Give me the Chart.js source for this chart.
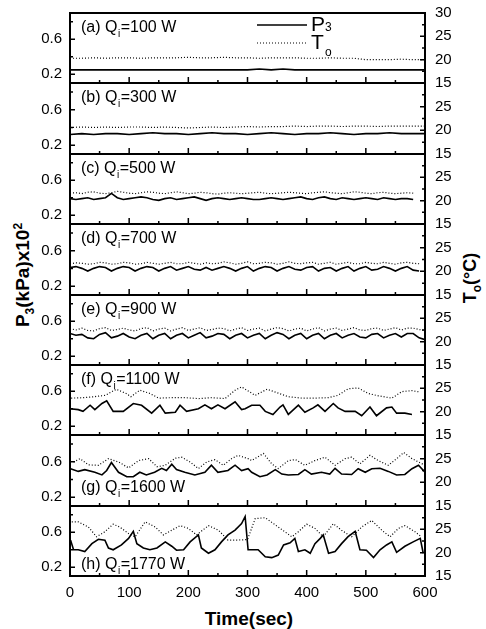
<!DOCTYPE html>
<html>
<head>
<meta charset="utf-8">
<script src="https://cdn.jsdelivr.net/npm/chart.js@4/dist/chart.umd.min.js"></script>
<style>
  html, body { margin: 0; padding: 0; background: #fff; }
  #wrap { position: relative; width: 486px; height: 629px; overflow: hidden; font-family: Arial, "Liberation Sans", sans-serif; }
  #wrap canvas { position: absolute; left: 0; }
  .title { position: absolute; font-weight: bold; color: #000; white-space: nowrap; transform: translate(-50%, -50%); }
  .rot { transform: translate(-50%, -50%) rotate(-90deg); }
  .title sub, .title sup { font-size: 12px; }
</style>
</head>
<body>
<div id="wrap">
  <div class="title rot" style="left:24px; top:275px; font-size:19px;">P<sub>3</sub>(kPa)x10<sup>2</sup></div>
  <div class="title rot" style="left:472px; top:278px; font-size:18px;">T<sub>o</sub>(°C)</div>
  <div class="title" style="left:249px; top:619px; font-size:19px;">Time(sec)</div>
</div>
<script>
// panel names and heat inputs
var panelNames = ['(a)', '(b)', '(c)', '(d)', '(e)', '(f)', '(g)', '(h)'];
var heatInputs = [100, 300, 500, 700, 900, 1100, 1600, 1770];

// tick labels
var xTickLabels = [0, 100, 200, 300, 400, 500, 600];
var leftTickLabels = [0.2, 0.6];
var rightTickLabels = [15, 20, 25, 30];

// time bases (sec)
var t20 = [0,20,40,60,80,100,120,140,160,180,200,220,240,260,280,300,320,340,360,380,400,420,440,460,480,500,520,540,560,580,600];
var t10 = [0,10,20,30,40,50,60,70,80,90,100,110,120,130,140,150,160,170,180,190,200,210,220,230,240,250,260,270,280,290,
           300,310,320,330,340,350,360,370,380,390,400,410,420,430,440,450,460,470,480,490,500,510,520,530,540,550,560,570,580,590,600];

// (a) 100 W
var pA = [0.25,0.25,0.25,0.25,0.25,0.25,0.25,0.25,0.25,0.25,0.25,0.25,0.25,0.25,0.25,0.25,0.26,0.25,0.26,0.25,0.25,0.25,0.25,0.25,0.25,0.25,0.25,0.25,0.25,0.25,0.25];
var tempA = [20.3,20.3,20.4,20.3,20.4,20.4,20.3,20.4,20.4,20.4,20.5,20.4,20.4,20.5,20.4,20.4,20.3,20.4,20.4,20.4,20.3,20.3,20.4,20.3,20.3,20.0,20.0,20.0,20.1,20.0,20.0];

// (b) 300 W
var pB = [0.32,0.33,0.32,0.33,0.33,0.32,0.33,0.34,0.33,0.33,0.32,0.33,0.34,0.33,0.33,0.32,0.33,0.34,0.33,0.32,0.33,0.33,0.34,0.33,0.32,0.33,0.33,0.34,0.33,0.33,0.33];
var tempB = [20.6,20.7,20.6,20.7,20.6,20.7,20.7,20.6,20.7,20.6,20.5,20.6,20.7,20.6,20.7,20.8,20.7,20.8,20.8,20.9,20.8,20.9,20.9,20.8,20.9,20.9,20.8,20.9,20.9,20.9,20.9];

// (c) 500 W
var pC = [0.39,0.38,0.39,0.40,0.38,0.39,0.40,0.45,0.40,0.38,
          0.39,0.40,0.41,0.40,0.38,0.37,0.39,0.40,0.38,0.39,
          0.40,0.41,0.39,0.37,0.39,0.40,0.39,0.38,0.39,0.40,
          0.39,0.38,0.38,0.39,0.40,0.39,0.38,0.39,0.40,0.41,
          0.39,0.38,0.40,0.41,0.39,0.38,0.40,0.39,0.38,0.39,
          0.40,0.39,0.38,0.40,0.39,0.38,0.39,0.39,0.38];
var tempC = [21.6,21.7,21.5,21.8,21.9,21.6,21.5,21.7,22.0,21.8,
             21.6,21.5,21.7,21.9,21.8,21.6,21.5,21.7,21.9,21.7,
             21.5,21.6,21.8,21.7,21.5,21.4,21.6,21.7,21.6,21.5,
             21.6,21.7,21.8,21.6,21.5,21.6,21.7,21.8,21.7,21.6,
             21.5,21.7,21.8,21.9,21.7,21.6,21.5,21.7,21.9,21.8,
             21.6,21.5,21.7,21.8,21.6,21.5,21.6,21.7,21.6];

// (d) 700 W
var pD = [0.41,0.42,0.40,0.37,0.40,0.42,0.41,0.37,0.40,0.42,
          0.41,0.37,0.40,0.42,0.41,0.37,0.40,0.42,0.38,0.40,
          0.42,0.39,0.38,0.41,0.38,0.40,0.42,0.40,0.37,0.40,
          0.42,0.37,0.40,0.42,0.41,0.37,0.40,0.42,0.39,0.38,
          0.41,0.42,0.37,0.40,0.41,0.37,0.40,0.42,0.37,0.40,
          0.42,0.38,0.39,0.42,0.40,0.37,0.40,0.42,0.38,0.37];
var tempD = [21.6,21.8,21.7,21.5,21.6,21.9,21.8,21.5,21.6,21.9,
             21.8,21.5,21.6,21.9,21.7,21.5,21.7,21.9,21.6,21.6,
             21.9,21.7,21.5,21.8,21.6,21.7,22.0,21.8,21.5,21.7,
             22.0,21.6,21.7,21.9,21.8,21.5,21.7,22.0,21.7,21.6,
             21.8,21.9,21.5,21.7,21.9,21.5,21.7,21.9,21.6,21.6,
             21.9,21.7,21.6,21.9,21.7,21.5,21.8,21.9,21.7,21.6];

// (e) 900 W
var pE = [0.46,0.44,0.45,0.41,0.40,0.45,0.47,0.41,0.43,0.46,
          0.42,0.40,0.44,0.46,0.40,0.44,0.46,0.40,0.44,0.46,
          0.41,0.44,0.47,0.41,0.43,0.46,0.45,0.40,0.44,0.46,
          0.41,0.44,0.46,0.40,0.44,0.47,0.45,0.40,0.44,0.46,
          0.40,0.44,0.46,0.40,0.44,0.46,0.41,0.44,0.46,0.42,
          0.41,0.45,0.46,0.41,0.44,0.46,0.42,0.46,0.46,0.41,
          0.39];
var tempE = [22.8,22.5,22.9,22.4,22.3,22.8,23.0,22.4,22.6,22.9,
             22.5,22.3,22.8,23.0,22.3,22.7,22.9,22.3,22.7,23.0,
             22.4,22.7,23.0,22.4,22.6,22.9,22.8,22.3,22.7,23.0,
             22.4,22.7,22.9,22.3,22.7,23.0,22.8,22.3,22.7,22.9,
             22.3,22.7,23.0,22.3,22.7,22.9,22.4,22.7,23.0,22.5,
             22.4,22.8,22.9,22.4,22.7,23.0,22.5,22.9,22.9,22.6,
             22.4];

// (f) 1100 W
var fPTime = [0,14,22,34,42,54,62,73,90,107,121,138,152,161,178,186,197,217,228,239,
              250,262,279,290,296,307,321,330,343,355,360,369,386,397,411,419,431,445,453,465,
              482,493,507,518,535,544,552,566,578];
var pF = [0.40,0.39,0.37,0.44,0.39,0.46,0.49,0.37,0.37,0.46,0.44,0.35,0.44,0.35,0.36,0.44,0.37,0.40,0.445,0.40,
          0.445,0.40,0.48,0.39,0.40,0.44,0.44,0.37,0.335,0.42,0.445,0.335,0.44,0.36,0.41,0.445,0.37,0.46,0.41,0.37,
          0.37,0.32,0.42,0.32,0.41,0.42,0.35,0.35,0.335];
var fTTime = [2,23,40,60,78,95,103,118,135,150,172,195,217,240,262,279,290,313,333,347,
              369,392,414,437,453,470,487,504,521,544,561,578,592];
var tempF = [22.9,23.0,23.2,23.5,24.8,23.9,23.2,24.6,23.9,22.9,23.0,23.0,22.8,23.0,22.8,24.6,25.3,23.5,24.8,24.2,
             23.2,22.9,22.9,23.0,23.5,24.9,25.1,23.9,23.4,22.9,24.3,24.5,24.2];

// (g) 1600 W
var gPTime = [1,14,25,42,54,62,70,82,96,107,118,129,143,155,163,172,180,194,211,228,239,250,267,279,290,301,
              307,321,333,347,358,369,386,397,408,425,439,448,459,476,487,499,510,524,538,552,566,578,589,600];
var pG = [0.52,0.49,0.51,0.48,0.45,0.50,0.59,0.48,0.43,0.43,0.48,0.45,0.48,0.525,0.50,0.57,0.51,0.48,0.45,0.48,0.56,0.48,0.50,0.56,0.50,0.52,
          0.48,0.43,0.45,0.51,0.46,0.45,0.455,0.51,0.46,0.48,0.46,0.525,0.46,0.455,0.52,0.48,0.52,0.525,0.49,0.45,0.455,0.52,0.56,0.48];
var gTTime = [6,17,31,48,65,82,99,116,133,147,161,178,189,203,217,231,245,259,273,284,301,
              307,327,341,352,369,381,397,414,431,448,465,476,490,507,521,538,555,564,578,589,600];
var tempG = [24.3,25.0,23.7,23.6,25.0,24.3,23.05,24.6,25.0,23.3,23.6,25.1,25.3,24.3,22.9,24.3,24.8,23.6,25.0,25.7,25.0,
             24.6,26.1,23.9,22.9,24.6,24.8,23.6,24.6,25.3,23.6,25.0,25.3,23.9,25.7,24.6,23.6,25.3,26.3,25.0,24.3,23.6];

// (h) 1770 W
var hPTime = [1,6,14,25,37,48,59,65,73,87,99,107,113,124,135,147,161,172,180,192,203,217,222,234,245,256,267,279,290,296,
              301,318,330,341,352,361,372,380,386,397,406,414,423,428,437,448,459,470,482,490,501,513,524,535,544,552,566,580,592,597];
var pH = [0.51,0.40,0.40,0.38,0.47,0.52,0.51,0.42,0.40,0.455,0.53,0.61,0.47,0.42,0.40,0.42,0.49,0.44,0.395,0.40,0.49,0.57,0.42,0.36,0.40,0.49,0.57,0.625,0.70,0.78,
          0.40,0.40,0.32,0.31,0.34,0.455,0.48,0.53,0.38,0.40,0.36,0.47,0.53,0.57,0.36,0.38,0.47,0.55,0.61,0.40,0.395,0.31,0.40,0.455,0.49,0.37,0.44,0.49,0.53,0.36];
var hTTime = [3,14,31,45,59,73,84,99,110,127,144,158,172,186,200,214,234,251,267,284,300,
              313,330,352,375,386,400,414,428,445,459,476,493,510,527,541,555,566,583,594];
var tempH = [26.6,26.6,25.5,23.4,24.5,26.1,25.5,24.1,23.4,26.6,25.5,23.8,24.8,25.8,25.2,23.8,25.8,24.8,22.7,22.7,22.8,
             27.3,27.5,25.5,23.4,24.5,26.1,25.2,23.4,26.2,24.8,23.4,25.5,26.9,24.8,23.4,25.2,25.8,24.5,23.4];

function zip(xs, ys) {
    return ys.map(function (y, i) { return { x: xs[i], y: y }; });
}

var panels = [
    { p: zip(t20, pA), t: zip(t20, tempA) },
    { p: zip(t20, pB), t: zip(t20, tempB) },
    { p: zip(t10, pC), t: zip(t10, tempC) },
    { p: zip(t10, pD), t: zip(t10, tempD) },
    { p: zip(t10, pE), t: zip(t10, tempE) },
    { p: zip(fPTime, pF), t: zip(fTTime, tempF) },
    { p: zip(gPTime, pG), t: zip(gTTime, tempG) },
    { p: zip(hPTime, pH), t: zip(hTTime, tempH) }
];

// page layout (px)
var panelTops = [13, 83, 154, 224, 295, 365, 435, 506, 576];
var FONT = 'Arial, "Liberation Sans", sans-serif';

function drawLabel(ctx, x, y, name, q) {
    ctx.fillStyle = '#000';
    ctx.textBaseline = 'middle';
    ctx.textAlign = 'left';
    ctx.font = '16px ' + FONT;
    var s1 = name + ' Q';
    ctx.fillText(s1, x, y);
    x += ctx.measureText(s1).width;
    ctx.font = '10px ' + FONT;
    ctx.fillText('i', x + 0.5, y + 6);
    x += ctx.measureText('i').width + 1;
    ctx.font = '16px ' + FONT;
    ctx.fillText('=' + q + ' W', x, y);
}

// keep the plot box fixed: no automatic room for edge labels
function noEdgePadding(s) {
    s.paddingTop = 0;
    s.paddingBottom = 0;
    s.paddingLeft = 0;
    s.paddingRight = 0;
}

var framePlugin = {
    id: 'frame',
    afterDraw: function (chart) {
        var ctx = chart.ctx;
        var a = chart.chartArea;
        var sx = chart.scales.x, sl = chart.scales.yL, sr = chart.scales.yR;
        var idx = chart.options.plugins.frame.index;
        ctx.save();
        ctx.strokeStyle = '#000';
        ctx.lineWidth = 2;
        ctx.strokeRect(a.left, a.top, a.right - a.left, a.bottom - a.top);

        ctx.lineWidth = 1.5;
        ctx.beginPath();
        // time ticks on the bottom edge, pointing in
        for (var v = 0; v <= 600; v += 50) {
            var px = sx.getPixelForValue(v);
            var len = (v % 100 === 0) ? 6 : 3;
            ctx.moveTo(px, a.bottom);
            ctx.lineTo(px, a.bottom - len);
        }
        // left ticks
        [0.2, 0.4, 0.6, 0.8].forEach(function (v, k) {
            var py = sl.getPixelForValue(v);
            ctx.moveTo(a.left, py);
            ctx.lineTo(a.left + (k % 2 === 0 ? 5 : 3), py);
        });
        // right ticks
        [17.5, 20, 22.5, 25, 27.5].forEach(function (v) {
            var py = sr.getPixelForValue(v);
            ctx.moveTo(a.right, py);
            ctx.lineTo(a.right - (v % 5 === 0 ? 5 : 3), py);
        });
        ctx.stroke();

        // panel label
        var ly = idx >= 6 ? a.top + (idx === 6 ? 53 : 59) : a.top + 15;
        drawLabel(ctx, a.left + 11, ly, panelNames[idx], heatInputs[idx]);

        // legend in panel (a)
        if (idx === 0) {
            ctx.lineWidth = 1.5;
            ctx.beginPath();
            ctx.moveTo(257, a.top + 12);
            ctx.lineTo(307, a.top + 12);
            ctx.stroke();
            ctx.setLineDash([1, 2]);
            ctx.lineWidth = 1.2;
            ctx.beginPath();
            ctx.moveTo(257, a.top + 30);
            ctx.lineTo(307, a.top + 30);
            ctx.stroke();
            ctx.setLineDash([]);
            ctx.fillStyle = '#000';
            ctx.textAlign = 'left';
            ctx.textBaseline = 'middle';
            ctx.font = '21px ' + FONT;
            ctx.fillText('P', 311, a.top + 12);
            ctx.fillText('T', 311, a.top + 30);
            ctx.font = '12px ' + FONT;
            ctx.fillText('3', 325, a.top + 15);
            ctx.fillText('o', 325, a.top + 40);
        }
        ctx.restore();
    }
};

var wrap = document.getElementById('wrap');

panels.forEach(function (panel, i) {
    var last = i === panels.length - 1;
    var h = panelTops[i + 1] - panelTops[i];
    var ch = h + 10 + (last ? 30 : 10);
    var canvas = document.createElement('canvas');
    canvas.width = 486;
    canvas.height = ch;
    canvas.style.width = '486px';
    canvas.style.height = ch + 'px';
    canvas.style.top = (panelTops[i] - 10) + 'px';
    wrap.appendChild(canvas);

    var rightLabels = i === 0 ? rightTickLabels : rightTickLabels.slice(0, 3);

    new Chart(canvas.getContext('2d'), {
        type: 'line',
        data: {
            datasets: [{
                label: 'P3',
                data: panel.p,
                yAxisID: 'yL',
                borderColor: '#000',
                borderWidth: 1.6,
                pointRadius: 0,
                tension: 0,
                fill: false
            }, {
                label: 'To',
                data: panel.t,
                yAxisID: 'yR',
                borderColor: '#000',
                borderWidth: 1.2,
                borderDash: [1, 2],
                pointRadius: 0,
                tension: 0,
                fill: false
            }]
        },
        options: {
            responsive: false,
            animation: false,
            devicePixelRatio: 1,
            layout: { autoPadding: false, padding: { top: 10, bottom: last ? 0 : 10, left: 0, right: 0 } },
            plugins: {
                legend: { display: false },
                title: { display: false },
                tooltip: { enabled: false },
                frame: { index: i }
            },
            scales: {
                x: {
                    type: 'linear',
                    min: 0,
                    max: 600,
                    display: last,
                    grid: { display: false, drawTicks: false },
                    border: { display: false },
                    afterBuildTicks: function (s) {
                        s.ticks = xTickLabels.map(function (v) { return { value: v }; });
                    },
                    ticks: {
                        padding: 8,
                        autoSkip: false,
                        maxRotation: 0,
                        color: '#000',
                        font: { family: FONT, size: 15 },
                        callback: function (v) { return String(v); }
                    },
                    afterFit: function (s) { s.height = last ? 30 : 0; noEdgePadding(s); }
                },
                yL: {
                    type: 'linear',
                    position: 'left',
                    min: 0.1,
                    max: 0.9,
                    grid: { display: false, drawTicks: false },
                    border: { display: false },
                    afterBuildTicks: function (s) {
                        s.ticks = leftTickLabels.map(function (v) { return { value: v }; });
                    },
                    ticks: {
                        padding: 8,
                        autoSkip: false,
                        color: '#000',
                        font: { family: FONT, size: 15 },
                        callback: function (v) { return v.toFixed(1); }
                    },
                    afterFit: function (s) { s.width = 70; noEdgePadding(s); }
                },
                yR: {
                    type: 'linear',
                    position: 'right',
                    min: 15,
                    max: 30,
                    grid: { display: false, drawTicks: false },
                    border: { display: false },
                    afterBuildTicks: function (s) {
                        s.ticks = rightLabels.map(function (v) { return { value: v }; });
                    },
                    ticks: {
                        padding: 10,
                        autoSkip: false,
                        color: '#000',
                        font: { family: FONT, size: 15 },
                        callback: function (v) { return String(v); }
                    },
                    afterFit: function (s) { s.width = 61; noEdgePadding(s); }
                }
            }
        },
        plugins: [framePlugin]
    });
});
</script>
</body>
</html>
